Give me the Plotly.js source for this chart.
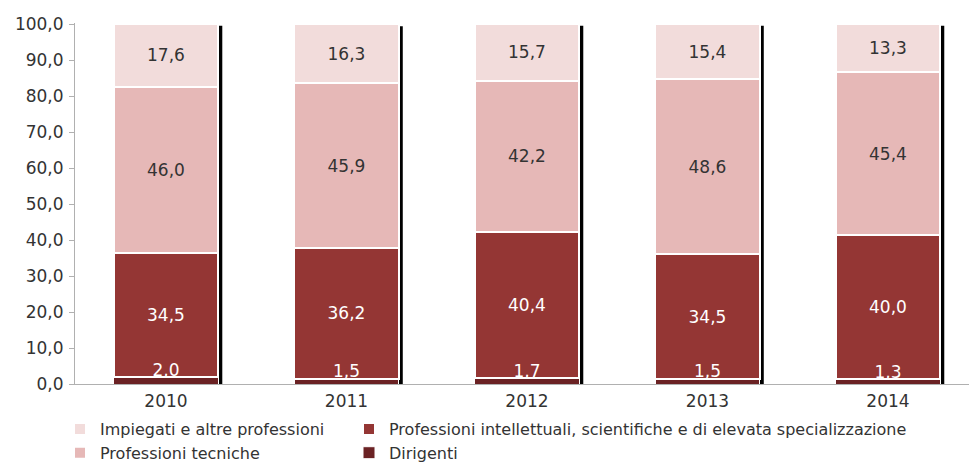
<!DOCTYPE html>
<html><head><meta charset="utf-8">
<script src="https://cdn.plot.ly/plotly-3.0.1.min.js"></script>
<style>body{margin:0;background:#fff}#c{width:969px;height:465px}</style>
</head><body><div id="c"></div>
<script>
const years = ['2010','2011','2012','2013','2014'];
const dirigenti = [2.0, 1.5, 1.7, 1.5, 1.3];
const intellettuali = [34.5, 36.2, 40.4, 34.5, 40.0];
const tecniche = [46.0, 45.9, 42.2, 48.6, 45.4];
const impiegati = [17.6, 16.3, 15.7, 15.4, 13.3];

const FONT = 'DejaVu Sans, sans-serif';
const FS = 17;
const TXT = '#333333';
const W = 0.58;
const common = {type:'bar', x: years, width: W,
  textposition:'inside', insidetextanchor:'middle', constraintext:'none', textangle:0,
  texttemplate:'%{y:.1f}', hoverinfo:'skip', cliponaxis:false};

const traces = [
  Object.assign({}, common, {name:'Dirigenti', y: dirigenti, marker:{color:'#6b2224', line:{color:'#ffffff', width:1}},
    texttemplate:'', legend:'legend2', legendgroup:'d', legendrank:2}),
  Object.assign({}, common, {name:'Professioni intellettuali, scientifiche e di elevata specializzazione', y: intellettuali,
    marker:{color:'#943634', line:{color:'#ffffff', width:2}}, textfont:{color:'#ffffff', size:FS, family:FONT},
    legend:'legend2', legendgroup:'i', legendrank:1}),
  Object.assign({}, common, {name:'Professioni tecniche', y: tecniche,
    marker:{color:'#e6b8b7', line:{color:'#ffffff', width:2}}, textfont:{color:TXT, size:FS, family:FONT},
    legend:'legend', legendgroup:'t', legendrank:2}),
  Object.assign({}, common, {name:'Impiegati e altre professioni', y: impiegati,
    marker:{color:'#f2dcdb', line:{color:'#ffffff', width:2}}, textfont:{color:TXT, size:FS, family:FONT},
    legend:'legend', legendgroup:'a', legendrank:1}),
  {type:'scatter', mode:'text', x: years, y: dirigenti.map(v=>v+1.5), text: dirigenti.map(v=>v.toFixed(1).replace('.',',')),
   textposition:'middle center', textfont:{color:'#ffffff', size:FS, family:FONT}, showlegend:false, hoverinfo:'skip', cliponaxis:false}
];

// shadow strips at right edge of each bar, derived from data
const shapes = years.map((y,i)=>{
  const total = dirigenti[i]+intellettuali[i]+tecniche[i]+impiegati[i];
  return {type:'rect', xref:'x', yref:'y', x0: i + W/2, x1: i + W/2 + 0.022, y0: 0, y1: Math.min(total,100) - 0.5,
    fillcolor:'#000000', line:{width:0}, layer:'below'};
});

const legendCommon = {orientation:'v', xref:'container', yref:'container', xanchor:'left', y:1-412/465, yanchor:'top',
  font:{size:16, color:TXT, family:FONT}, traceorder:'normal', itemwidth:30, tracegroupgap:4, bgcolor:'rgba(0,0,0,0)'};
const layout = {
  width:969, height:465, margin:{l:75, r:0, t:23, b:81, autoexpand:false},
  paper_bgcolor:'#ffffff', plot_bgcolor:'#ffffff',
  barmode:'stack', separators:',.',
  font:{family:FONT, size:FS, color:TXT},
  xaxis:{type:'category', range:[-0.504, 4.449], showline:true, linecolor:'#b0b0b0', linewidth:1,
    ticks:'', showgrid:false, zeroline:false, tickfont:{size:FS, color:TXT, family:FONT}, ticklabelstandoff:2},
  yaxis:{range:[0,100.28], tickvals:[0,10,20,30,40,50,60,70,80,90,100], tickformat:'.1f', showline:true, linecolor:'#b0b0b0', linewidth:1,
    ticks:'outside', ticklen:5, tickcolor:'#b0b0b0', showgrid:false, zeroline:false,
    tickfont:{size:FS, color:TXT, family:FONT}, ticklabelstandoff:2},
  shapes: shapes,
  legend: Object.assign({}, legendCommon, {x:60/969}),
  legend2: Object.assign({}, legendCommon, {x:349/969}),
  showlegend:true
};
Plotly.newPlot('c', traces, layout, {staticPlot:true, displayModeBar:false});
</script></body></html>
